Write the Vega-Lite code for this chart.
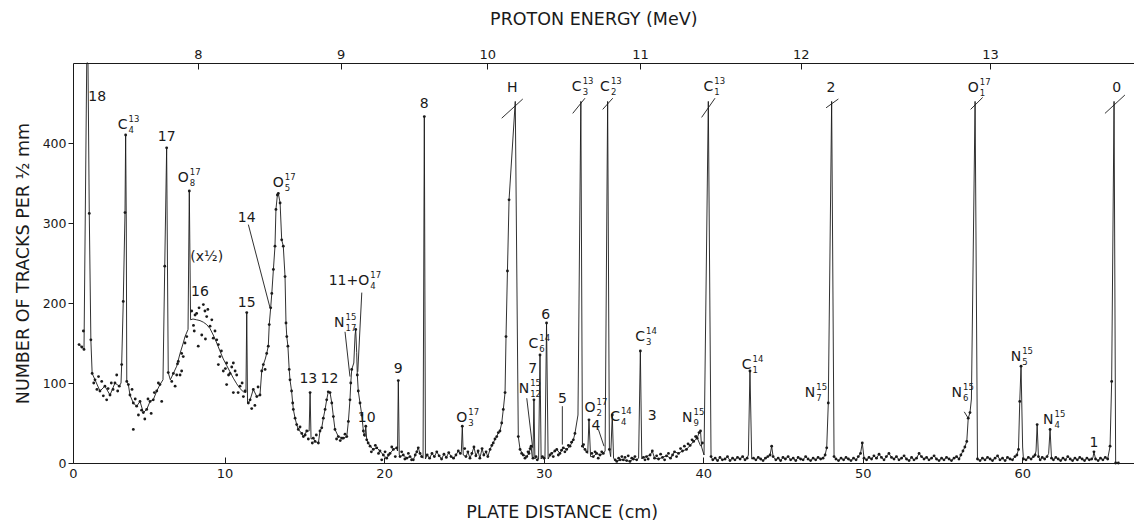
{
"$schema":"https://vega.github.io/schema/vega-lite/v6.json",
"width":1061,"height":400,
"autosize":{"type":"none"},
"padding":{"left":73,"top":63,"right":0,"bottom":58},
"background":"white",
"config":{"view":{"stroke":null},"font":"DejaVu Sans"},
"datasets":{
"s":[
{"x":0.88,"y":148,"k":"b"},{"x":1.05,"y":145,"k":"p"},{"x":1.15,"y":165,"k":"p"},{"x":1.19,"y":142,"k":"b"},{"x":1.36,"y":500,"k":"c"},{"x":1.44,"y":500,"k":"c"},{"x":1.52,"y":312,"k":"b"},{"x":1.62,"y":154,"k":"b"},{"x":1.70,"y":112,"k":"b"},{"x":1.80,"y":100,"k":"p"},{"x":1.88,"y":104,"k":"b"},{"x":2.00,"y":92,"k":"p"},{"x":2.10,"y":108,"k":"p"},{"x":2.19,"y":90,"k":"b"},{"x":2.30,"y":102,"k":"p"},{"x":2.40,"y":84,"k":"p"},{"x":2.50,"y":96,"k":"b"},{"x":2.61,"y":79,"k":"p"},{"x":2.70,"y":93,"k":"p"},{"x":2.82,"y":85,"k":"b"},{"x":2.90,"y":100,"k":"p"},{"x":3.01,"y":92,"k":"p"},{"x":3.13,"y":100,"k":"b"},{"x":3.24,"y":110,"k":"p"},{"x":3.30,"y":90,"k":"p"},{"x":3.40,"y":96,"k":"b"},{"x":3.51,"y":100,"k":"c"},{"x":3.55,"y":123,"k":"b"},{"x":3.65,"y":202,"k":"b"},{"x":3.76,"y":313,"k":"b"},{"x":3.80,"y":410,"k":"b"},{"x":3.84,"y":300,"k":"c"},{"x":3.87,"y":102,"k":"b"},{"x":3.97,"y":98,"k":"b"},{"x":4.07,"y":85,"k":"b"},{"x":4.20,"y":92,"k":"p"},{"x":4.28,"y":75,"k":"b"},{"x":4.28,"y":42,"k":"p"},{"x":4.40,"y":80,"k":"p"},{"x":4.49,"y":71,"k":"b"},{"x":4.60,"y":60,"k":"p"},{"x":4.70,"y":77,"k":"b"},{"x":4.80,"y":66,"k":"p"},{"x":4.91,"y":63,"k":"b"},{"x":5.00,"y":55,"k":"p"},{"x":5.12,"y":67,"k":"b"},{"x":5.20,"y":80,"k":"p"},{"x":5.33,"y":77,"k":"b"},{"x":5.40,"y":62,"k":"p"},{"x":5.53,"y":79,"k":"b"},{"x":5.60,"y":88,"k":"p"},{"x":5.75,"y":90,"k":"b"},{"x":5.85,"y":100,"k":"p"},{"x":5.95,"y":98,"k":"b"},{"x":6.06,"y":77,"k":"p"},{"x":6.14,"y":104,"k":"c"},{"x":6.25,"y":246,"k":"b"},{"x":6.37,"y":394,"k":"b"},{"x":6.42,"y":250,"k":"c"},{"x":6.47,"y":113,"k":"b"},{"x":6.60,"y":104,"k":"c"},{"x":6.79,"y":112,"k":"c"},{"x":7.00,"y":121,"k":"c"},{"x":7.21,"y":137,"k":"c"},{"x":7.41,"y":150,"k":"c"},{"x":7.52,"y":158,"k":"c"},{"x":7.71,"y":167,"k":"c"},{"x":7.79,"y":340,"k":"b"},{"x":7.87,"y":179,"k":"c"},{"x":8.02,"y":180,"k":"c"},{"x":8.25,"y":179,"k":"c"},{"x":8.46,"y":178,"k":"c"},{"x":8.67,"y":176,"k":"c"},{"x":8.88,"y":173,"k":"c"},{"x":9.09,"y":168,"k":"c"},{"x":9.29,"y":160,"k":"c"},{"x":9.51,"y":150,"k":"c"},{"x":9.71,"y":140,"k":"c"},{"x":9.92,"y":130,"k":"c"},{"x":10.13,"y":122,"k":"c"},{"x":10.34,"y":114,"k":"c"},{"x":10.55,"y":106,"k":"c"},{"x":10.76,"y":99,"k":"c"},{"x":10.97,"y":93,"k":"c"},{"x":11.18,"y":89,"k":"c"},{"x":11.34,"y":88,"k":"c"},{"x":11.39,"y":188,"k":"b"},{"x":11.44,"y":75,"k":"c"},
{"x":6.69,"y":102,"k":"p"},{"x":6.79,"y":112,"k":"p"},{"x":6.90,"y":96,"k":"p"},{"x":7.00,"y":110,"k":"p"},{"x":7.05,"y":124,"k":"p"},{"x":7.10,"y":127,"k":"p"},{"x":7.21,"y":110,"k":"p"},{"x":7.31,"y":115,"k":"p"},{"x":7.31,"y":137,"k":"p"},{"x":7.41,"y":133,"k":"p"},{"x":7.52,"y":150,"k":"p"},{"x":7.63,"y":158,"k":"p"},{"x":7.94,"y":190,"k":"p"},{"x":8.05,"y":172,"k":"p"},{"x":8.10,"y":165,"k":"p"},{"x":8.15,"y":185,"k":"p"},{"x":8.25,"y":187,"k":"p"},{"x":8.35,"y":146,"k":"p"},{"x":8.40,"y":194,"k":"p"},{"x":8.57,"y":160,"k":"p"},{"x":8.67,"y":198,"k":"p"},{"x":8.77,"y":190,"k":"p"},{"x":8.80,"y":155,"k":"p"},{"x":8.88,"y":183,"k":"p"},{"x":8.95,"y":192,"k":"p"},{"x":9.09,"y":171,"k":"p"},{"x":9.20,"y":179,"k":"p"},{"x":9.29,"y":156,"k":"p"},{"x":9.40,"y":165,"k":"p"},{"x":9.51,"y":154,"k":"p"},{"x":9.61,"y":148,"k":"p"},{"x":9.61,"y":123,"k":"p"},{"x":9.71,"y":133,"k":"p"},{"x":9.80,"y":140,"k":"p"},{"x":9.92,"y":115,"k":"p"},{"x":10.05,"y":118,"k":"p"},{"x":10.13,"y":125,"k":"p"},{"x":10.13,"y":98,"k":"p"},{"x":10.25,"y":110,"k":"p"},{"x":10.34,"y":112,"k":"p"},{"x":10.45,"y":120,"k":"p"},{"x":10.55,"y":125,"k":"p"},{"x":10.55,"y":88,"k":"p"},{"x":10.66,"y":115,"k":"p"},{"x":10.76,"y":110,"k":"p"},{"x":10.85,"y":88,"k":"p"},{"x":10.97,"y":96,"k":"p"},{"x":11.10,"y":100,"k":"p"},{"x":11.18,"y":83,"k":"p"},{"x":11.28,"y":90,"k":"p"},
{"x":11.49,"y":75,"k":"b"},{"x":11.60,"y":79,"k":"b"},{"x":11.70,"y":68,"k":"p"},{"x":11.80,"y":92,"k":"b"},{"x":11.90,"y":72,"k":"p"},{"x":12.02,"y":83,"k":"b"},{"x":12.10,"y":95,"k":"p"},{"x":12.22,"y":85,"k":"b"},{"x":12.33,"y":115,"k":"b"},{"x":12.43,"y":123,"k":"b"},{"x":12.54,"y":117,"k":"p"},{"x":12.55,"y":130,"k":"c"},{"x":12.64,"y":137,"k":"b"},{"x":12.74,"y":146,"k":"b"},{"x":12.80,"y":173,"k":"b"},{"x":12.89,"y":194,"k":"b"},{"x":12.96,"y":212,"k":"b"},{"x":13.06,"y":242,"k":"b"},{"x":13.16,"y":271,"k":"b"},{"x":13.22,"y":317,"k":"b"},{"x":13.31,"y":335,"k":"b"},{"x":13.37,"y":337,"k":"b"},{"x":13.48,"y":325,"k":"b"},{"x":13.58,"y":279,"k":"b"},{"x":13.68,"y":271,"k":"b"},{"x":13.79,"y":233,"k":"b"},{"x":13.85,"y":175,"k":"b"},{"x":13.90,"y":158,"k":"b"},{"x":13.97,"y":146,"k":"b"},{"x":14.05,"y":117,"k":"b"},{"x":14.10,"y":104,"k":"b"},{"x":14.20,"y":90,"k":"b"},{"x":14.27,"y":75,"k":"b"},{"x":14.31,"y":67,"k":"b"},{"x":14.42,"y":56,"k":"b"},{"x":14.52,"y":48,"k":"b"},{"x":14.62,"y":42,"k":"b"},{"x":14.73,"y":45,"k":"p"},{"x":14.84,"y":37,"k":"b"},{"x":14.94,"y":33,"k":"b"},{"x":15.05,"y":35,"k":"p"},{"x":15.15,"y":40,"k":"b"},{"x":15.25,"y":30,"k":"p"},{"x":15.30,"y":40,"k":"c"},{"x":15.36,"y":88,"k":"b"},{"x":15.42,"y":30,"k":"c"},{"x":15.50,"y":25,"k":"p"},{"x":15.56,"y":31,"k":"b"},{"x":15.67,"y":27,"k":"b"},{"x":15.75,"y":35,"k":"p"},{"x":15.88,"y":25,"k":"b"},{"x":15.98,"y":40,"k":"b"},{"x":16.09,"y":44,"k":"b"},{"x":16.19,"y":56,"k":"b"},{"x":16.30,"y":67,"k":"b"},{"x":16.40,"y":79,"k":"b"},{"x":16.50,"y":89,"k":"b"},{"x":16.61,"y":88,"k":"b"},{"x":16.72,"y":75,"k":"b"},{"x":16.82,"y":58,"k":"b"},{"x":16.92,"y":42,"k":"b"},{"x":17.02,"y":30,"k":"p"},{"x":17.13,"y":33,"k":"b"},{"x":17.25,"y":28,"k":"p"},{"x":17.35,"y":31,"k":"p"},{"x":17.44,"y":31,"k":"b"},{"x":17.55,"y":36,"k":"p"},{"x":17.66,"y":33,"k":"b"},{"x":17.76,"y":52,"k":"b"},{"x":17.86,"y":79,"k":"b"},{"x":17.91,"y":100,"k":"b"},{"x":17.97,"y":117,"k":"b"},{"x":18.10,"y":125,"k":"c"},{"x":18.18,"y":160,"k":"c"},{"x":18.22,"y":167,"k":"b"},{"x":18.28,"y":138,"k":"c"},{"x":18.32,"y":110,"k":"b"},{"x":18.38,"y":90,"k":"b"},{"x":18.49,"y":75,"k":"b"},{"x":18.60,"y":60,"k":"b"},{"x":18.70,"y":40,"k":"b"},{"x":18.76,"y":35,"k":"p"},{"x":18.80,"y":33,"k":"c"},{"x":18.85,"y":46,"k":"b"},{"x":18.91,"y":29,"k":"b"},{"x":19.00,"y":25,"k":"p"},{"x":19.12,"y":21,"k":"b"},{"x":19.20,"y":14,"k":"p"},{"x":19.32,"y":17,"k":"b"},{"x":19.45,"y":22,"k":"p"},{"x":19.54,"y":19,"k":"b"},{"x":19.65,"y":12,"k":"p"},{"x":19.74,"y":15,"k":"b"},{"x":19.85,"y":4,"k":"p"},{"x":19.95,"y":10,"k":"b"},{"x":20.06,"y":14,"k":"p"},{"x":20.16,"y":6,"k":"b"},{"x":20.27,"y":10,"k":"p"},{"x":20.37,"y":12,"k":"b"},{"x":20.48,"y":20,"k":"p"},{"x":20.58,"y":17,"k":"b"},{"x":20.70,"y":8,"k":"p"},{"x":20.79,"y":19,"k":"b"},{"x":20.84,"y":15,"k":"c"},{"x":20.89,"y":103,"k":"b"},{"x":20.95,"y":10,"k":"c"},
{"x":21.00,"y":8,"k":"b"},{"x":21.10,"y":14,"k":"p"},{"x":21.20,"y":10,"k":"b"},{"x":21.30,"y":5,"k":"p"},{"x":21.42,"y":6,"k":"b"},{"x":21.52,"y":12,"k":"p"},{"x":21.62,"y":8,"k":"b"},{"x":21.72,"y":4,"k":"p"},{"x":21.83,"y":4,"k":"b"},{"x":21.95,"y":10,"k":"p"},{"x":22.05,"y":14,"k":"p"},{"x":22.14,"y":19,"k":"b"},{"x":22.25,"y":12,"k":"b"},{"x":22.35,"y":8,"k":"p"},{"x":22.44,"y":6,"k":"c"},{"x":22.52,"y":433,"k":"b"},{"x":22.59,"y":5,"k":"c"},{"x":22.70,"y":10,"k":"b"},{"x":22.85,"y":6,"k":"b"},{"x":23.00,"y":12,"k":"b"},{"x":23.15,"y":8,"k":"b"},{"x":23.30,"y":14,"k":"b"},{"x":23.45,"y":9,"k":"b"},{"x":23.60,"y":5,"k":"b"},{"x":23.75,"y":11,"k":"b"},{"x":23.90,"y":7,"k":"b"},{"x":24.05,"y":13,"k":"b"},{"x":24.20,"y":8,"k":"b"},{"x":24.35,"y":6,"k":"b"},{"x":24.50,"y":10,"k":"b"},{"x":24.65,"y":15,"k":"b"},{"x":24.78,"y":12,"k":"b"},{"x":24.84,"y":14,"k":"c"},{"x":24.90,"y":46,"k":"b"},{"x":24.96,"y":10,"k":"c"},{"x":25.05,"y":18,"k":"p"},{"x":25.13,"y":8,"k":"b"},{"x":25.25,"y":14,"k":"b"},{"x":25.38,"y":6,"k":"b"},{"x":25.50,"y":12,"k":"b"},{"x":25.63,"y":20,"k":"b"},{"x":25.75,"y":9,"k":"b"},{"x":25.89,"y":15,"k":"b"},{"x":26.00,"y":6,"k":"b"},{"x":26.14,"y":18,"k":"b"},{"x":26.25,"y":10,"k":"b"},{"x":26.39,"y":14,"k":"b"},{"x":26.50,"y":8,"k":"b"},{"x":26.64,"y":17,"k":"b"},{"x":26.75,"y":22,"k":"b"},{"x":26.84,"y":25,"k":"b"},{"x":26.95,"y":30,"k":"b"},{"x":27.06,"y":33,"k":"b"},{"x":27.16,"y":38,"k":"b"},{"x":27.26,"y":40,"k":"b"},{"x":27.37,"y":50,"k":"b"},{"x":27.47,"y":67,"k":"b"},{"x":27.58,"y":88,"k":"b"},{"x":27.64,"y":158,"k":"b"},{"x":27.73,"y":240,"k":"b"},{"x":27.83,"y":329,"k":"b"},{"x":28.22,"y":452,"k":"c"},{"x":28.41,"y":33,"k":"b"},{"x":28.52,"y":17,"k":"b"},{"x":28.62,"y":12,"k":"p"},{"x":28.72,"y":10,"k":"b"},{"x":28.83,"y":6,"k":"p"},{"x":28.94,"y":8,"k":"b"},{"x":29.02,"y":14,"k":"p"},{"x":29.08,"y":12,"k":"b"},{"x":29.15,"y":18,"k":"p"},{"x":29.21,"y":21,"k":"b"},{"x":29.28,"y":8,"k":"c"},{"x":29.33,"y":6,"k":"b"},{"x":29.39,"y":79,"k":"b"},{"x":29.45,"y":5,"k":"c"},{"x":29.52,"y":8,"k":"b"},{"x":29.60,"y":4,"k":"p"},{"x":29.68,"y":5,"k":"c"},{"x":29.77,"y":135,"k":"b"},{"x":29.84,"y":5,"k":"c"},{"x":29.92,"y":8,"k":"b"},{"x":30.02,"y":6,"k":"p"},{"x":30.08,"y":5,"k":"c"},{"x":30.18,"y":175,"k":"b"},{"x":30.28,"y":5,"k":"c"},{"x":30.40,"y":10,"k":"b"},{"x":30.50,"y":12,"k":"b"},{"x":30.60,"y":8,"k":"p"},{"x":30.70,"y":15,"k":"p"},{"x":30.82,"y":17,"k":"b"},{"x":30.92,"y":10,"k":"p"},{"x":31.02,"y":12,"k":"b"},{"x":31.12,"y":16,"k":"p"},{"x":31.23,"y":19,"k":"b"},{"x":31.33,"y":14,"k":"p"},{"x":31.44,"y":17,"k":"b"},{"x":31.55,"y":22,"k":"p"},{"x":31.65,"y":21,"k":"b"},{"x":31.75,"y":26,"k":"p"},{"x":31.86,"y":29,"k":"b"},{"x":31.96,"y":37,"k":"b"},{"x":32.15,"y":60,"k":"c"},{"x":32.33,"y":452,"k":"c"},{"x":32.43,"y":21,"k":"b"},{"x":32.50,"y":23,"k":"p"},{"x":32.59,"y":17,"k":"b"},{"x":32.70,"y":14,"k":"p"},{"x":32.76,"y":12,"k":"c"},{"x":32.84,"y":54,"k":"b"},{"x":32.94,"y":8,"k":"c"},{"x":33.02,"y":12,"k":"p"},{"x":33.11,"y":8,"k":"b"},{"x":33.22,"y":14,"k":"p"},{"x":33.32,"y":12,"k":"b"},{"x":33.42,"y":6,"k":"p"},{"x":33.53,"y":10,"k":"b"},{"x":33.64,"y":14,"k":"p"},{"x":33.74,"y":12,"k":"b"},{"x":33.85,"y":15,"k":"c"},{"x":34.01,"y":452,"k":"c"},{"x":34.12,"y":17,"k":"b"},{"x":34.20,"y":8,"k":"c"},{"x":34.30,"y":60,"k":"b"},{"x":34.38,"y":6,"k":"c"},{"x":34.48,"y":4,"k":"p"},{"x":34.58,"y":2,"k":"b"},{"x":34.70,"y":6,"k":"p"},{"x":34.79,"y":4,"k":"b"},{"x":34.90,"y":8,"k":"p"},{"x":34.99,"y":4,"k":"b"},{"x":35.10,"y":7,"k":"p"},{"x":35.20,"y":3,"k":"b"},{"x":35.30,"y":9,"k":"p"},{"x":35.41,"y":2,"k":"b"},{"x":35.52,"y":6,"k":"p"},{"x":35.62,"y":5,"k":"b"},{"x":35.72,"y":8,"k":"p"},{"x":35.83,"y":4,"k":"b"},{"x":35.95,"y":6,"k":"c"},{"x":36.06,"y":140,"k":"b"},{"x":36.15,"y":5,"k":"c"},{"x":36.25,"y":7,"k":"b"},{"x":36.35,"y":4,"k":"p"},{"x":36.45,"y":8,"k":"b"},{"x":36.55,"y":5,"k":"p"},{"x":36.67,"y":10,"k":"b"},{"x":36.81,"y":15,"k":"b"},{"x":36.95,"y":6,"k":"b"},{"x":37.08,"y":9,"k":"p"},{"x":37.20,"y":5,"k":"b"},{"x":37.33,"y":11,"k":"p"},{"x":37.45,"y":7,"k":"b"},{"x":37.58,"y":4,"k":"p"},{"x":37.70,"y":9,"k":"b"},{"x":37.82,"y":12,"k":"p"},{"x":37.95,"y":6,"k":"b"},{"x":38.08,"y":10,"k":"p"},{"x":38.20,"y":14,"k":"b"},{"x":38.33,"y":8,"k":"p"},{"x":38.45,"y":12,"k":"b"},{"x":38.58,"y":18,"k":"p"},{"x":38.70,"y":15,"k":"b"},{"x":38.82,"y":21,"k":"p"},{"x":38.95,"y":17,"k":"b"},{"x":39.05,"y":24,"k":"p"},{"x":39.18,"y":22,"k":"b"},{"x":39.30,"y":29,"k":"p"},{"x":39.40,"y":27,"k":"b"},{"x":39.52,"y":33,"k":"p"},{"x":39.62,"y":31,"k":"b"},{"x":39.74,"y":38,"k":"b"},{"x":39.83,"y":40,"k":"b"},{"x":39.90,"y":20,"k":"c"},{"x":39.95,"y":25,"k":"p"},{"x":40.05,"y":10,"k":"c"},{"x":40.32,"y":452,"k":"c"},{"x":40.49,"y":8,"k":"b"},
{"x":40.60,"y":4,"k":"b"},{"x":40.75,"y":6,"k":"b"},{"x":40.90,"y":3,"k":"b"},{"x":41.05,"y":7,"k":"b"},{"x":41.20,"y":4,"k":"b"},{"x":41.37,"y":5,"k":"b"},{"x":41.52,"y":8,"k":"b"},{"x":41.68,"y":3,"k":"b"},{"x":41.84,"y":6,"k":"b"},{"x":41.99,"y":4,"k":"b"},{"x":42.15,"y":7,"k":"b"},{"x":42.31,"y":5,"k":"b"},{"x":42.47,"y":8,"k":"b"},{"x":42.62,"y":4,"k":"b"},{"x":42.75,"y":6,"k":"b"},{"x":42.83,"y":10,"k":"c"},{"x":42.93,"y":115,"k":"b"},{"x":43.04,"y":5,"k":"c"},{"x":43.15,"y":6,"k":"b"},{"x":43.30,"y":4,"k":"b"},{"x":43.45,"y":7,"k":"b"},{"x":43.60,"y":5,"k":"b"},{"x":43.75,"y":3,"k":"b"},{"x":43.90,"y":6,"k":"b"},{"x":44.05,"y":8,"k":"b"},{"x":44.19,"y":10,"k":"b"},{"x":44.29,"y":21,"k":"b"},{"x":44.38,"y":8,"k":"b"},{"x":44.55,"y":4,"k":"b"},{"x":44.70,"y":6,"k":"b"},{"x":44.85,"y":3,"k":"b"},{"x":45.00,"y":7,"k":"b"},{"x":45.15,"y":5,"k":"b"},{"x":45.32,"y":8,"k":"b"},{"x":45.48,"y":4,"k":"b"},{"x":45.64,"y":6,"k":"b"},{"x":45.80,"y":3,"k":"b"},{"x":45.95,"y":7,"k":"b"},{"x":46.10,"y":5,"k":"b"},{"x":46.26,"y":4,"k":"b"},{"x":46.42,"y":8,"k":"b"},{"x":46.57,"y":5,"k":"b"},{"x":46.73,"y":3,"k":"b"},{"x":46.89,"y":6,"k":"b"},{"x":47.05,"y":4,"k":"b"},{"x":47.20,"y":7,"k":"b"},{"x":47.36,"y":5,"k":"b"},{"x":47.51,"y":6,"k":"b"},{"x":47.64,"y":10,"k":"b"},{"x":47.74,"y":19,"k":"b"},{"x":47.84,"y":75,"k":"b"},{"x":48.05,"y":452,"k":"c"},{"x":48.20,"y":8,"k":"b"},{"x":48.32,"y":5,"k":"b"},{"x":48.48,"y":3,"k":"b"},{"x":48.64,"y":6,"k":"b"},{"x":48.80,"y":4,"k":"b"},{"x":48.95,"y":7,"k":"b"},{"x":49.10,"y":5,"k":"b"},{"x":49.26,"y":3,"k":"b"},{"x":49.42,"y":6,"k":"b"},{"x":49.58,"y":4,"k":"b"},{"x":49.72,"y":8,"k":"b"},{"x":49.86,"y":12,"k":"b"},{"x":49.97,"y":25,"k":"b"},{"x":50.08,"y":6,"k":"b"},{"x":50.24,"y":4,"k":"b"},{"x":50.39,"y":7,"k":"b"},{"x":50.55,"y":5,"k":"b"},{"x":50.70,"y":9,"k":"b"},{"x":50.86,"y":6,"k":"b"},{"x":51.02,"y":11,"k":"b"},{"x":51.17,"y":7,"k":"b"},{"x":51.33,"y":4,"k":"b"},{"x":51.48,"y":8,"k":"b"},{"x":51.64,"y":12,"k":"b"},{"x":51.80,"y":7,"k":"b"},{"x":51.96,"y":5,"k":"b"},{"x":52.11,"y":8,"k":"b"},{"x":52.27,"y":4,"k":"b"},{"x":52.43,"y":6,"k":"b"},{"x":52.59,"y":9,"k":"b"},{"x":52.74,"y":5,"k":"b"},{"x":52.90,"y":3,"k":"b"},{"x":53.06,"y":7,"k":"b"},{"x":53.21,"y":4,"k":"b"},{"x":53.37,"y":6,"k":"b"},{"x":53.53,"y":12,"k":"b"},{"x":53.68,"y":8,"k":"b"},{"x":53.84,"y":5,"k":"b"},{"x":54.00,"y":7,"k":"b"},{"x":54.15,"y":4,"k":"b"},{"x":54.31,"y":6,"k":"b"},{"x":54.47,"y":9,"k":"b"},{"x":54.62,"y":5,"k":"b"},{"x":54.78,"y":3,"k":"b"},{"x":54.94,"y":6,"k":"b"},{"x":55.09,"y":4,"k":"b"},{"x":55.25,"y":7,"k":"b"},{"x":55.41,"y":5,"k":"b"},{"x":55.56,"y":3,"k":"b"},{"x":55.72,"y":6,"k":"b"},{"x":55.88,"y":8,"k":"b"},{"x":56.03,"y":5,"k":"b"},{"x":56.15,"y":10,"k":"b"},{"x":56.28,"y":15,"k":"b"},{"x":56.40,"y":20,"k":"b"},{"x":56.52,"y":27,"k":"b"},{"x":56.61,"y":56,"k":"b"},{"x":56.72,"y":63,"k":"b"},{"x":56.81,"y":80,"k":"c"},{"x":57.04,"y":452,"k":"c"},{"x":57.19,"y":5,"k":"b"},{"x":57.35,"y":3,"k":"b"},{"x":57.50,"y":6,"k":"b"},{"x":57.66,"y":4,"k":"b"},{"x":57.82,"y":7,"k":"b"},{"x":57.98,"y":5,"k":"b"},{"x":58.13,"y":3,"k":"b"},{"x":58.29,"y":6,"k":"b"},{"x":58.45,"y":9,"k":"b"},{"x":58.60,"y":4,"k":"b"},{"x":58.76,"y":6,"k":"b"},{"x":58.92,"y":3,"k":"b"},{"x":59.07,"y":7,"k":"b"},{"x":59.23,"y":5,"k":"b"},{"x":59.38,"y":4,"k":"b"},{"x":59.54,"y":8,"k":"b"},{"x":59.66,"y":10,"k":"b"},{"x":59.76,"y":17,"k":"b"},{"x":59.84,"y":77,"k":"b"},{"x":59.92,"y":121,"k":"b"},{"x":60.02,"y":20,"k":"c"},{"x":60.07,"y":5,"k":"b"},{"x":60.23,"y":4,"k":"b"},{"x":60.38,"y":7,"k":"b"},{"x":60.55,"y":5,"k":"b"},{"x":60.70,"y":8,"k":"b"},{"x":60.80,"y":10,"k":"b"},{"x":60.86,"y":15,"k":"c"},{"x":60.93,"y":48,"k":"b"},{"x":61.01,"y":8,"k":"b"},{"x":61.12,"y":4,"k":"b"},{"x":61.25,"y":7,"k":"b"},{"x":61.40,"y":5,"k":"b"},{"x":61.55,"y":8,"k":"b"},{"x":61.65,"y":12,"k":"c"},{"x":61.74,"y":42,"k":"b"},{"x":61.83,"y":6,"k":"b"},{"x":61.95,"y":4,"k":"b"},{"x":62.10,"y":7,"k":"b"},{"x":62.25,"y":5,"k":"b"},{"x":62.40,"y":3,"k":"b"},{"x":62.55,"y":6,"k":"b"},{"x":62.70,"y":4,"k":"b"},{"x":62.85,"y":8,"k":"b"},{"x":63.00,"y":5,"k":"b"},{"x":63.15,"y":3,"k":"b"},{"x":63.30,"y":6,"k":"b"},{"x":63.45,"y":4,"k":"b"},{"x":63.60,"y":7,"k":"b"},{"x":63.75,"y":5,"k":"b"},{"x":63.90,"y":3,"k":"b"},{"x":64.05,"y":6,"k":"b"},{"x":64.20,"y":4,"k":"b"},{"x":64.35,"y":5,"k":"b"},{"x":64.43,"y":7,"k":"c"},{"x":64.49,"y":14,"k":"b"},{"x":64.59,"y":5,"k":"b"},{"x":64.75,"y":3,"k":"b"},{"x":64.90,"y":6,"k":"b"},{"x":65.05,"y":4,"k":"b"},{"x":65.20,"y":7,"k":"b"},{"x":65.35,"y":5,"k":"b"},{"x":65.50,"y":21,"k":"b"},{"x":65.60,"y":102,"k":"b"},{"x":65.75,"y":452,"k":"c"},{"x":65.85,"y":0,"k":"b"},{"x":66.02,"y":0,"k":"b"}
],
"lab":[
{"x":2.02,"y":458,"t":"18"},{"x":6.37,"y":407,"t":"17"},{"x":8.88,"y":257,"t":"(x½)"},{"x":8.46,"y":214,"t":"16"},{"x":11.39,"y":200,"t":"15"},{"x":11.39,"y":306,"t":"14"},{"x":15.25,"y":105,"t":"13"},{"x":16.57,"y":105,"t":"12"},{"x":18.91,"y":56,"t":"10"},{"x":20.89,"y":117,"t":"9"},{"x":22.52,"y":449,"t":"8"},{"x":28.03,"y":469,"t":"H"},{"x":29.31,"y":118,"t":"7"},{"x":30.13,"y":185,"t":"6"},{"x":31.17,"y":80,"t":"5"},{"x":33.28,"y":46,"t":"4"},{"x":36.81,"y":59,"t":"3"},{"x":48.01,"y":469,"t":"2"},{"x":64.49,"y":25,"t":"1"},{"x":65.92,"y":469,"t":"0"}
],
"iso":[
{"x":3.92,"y":423,"t":"C","sp":"13","sb":"4"},{"x":7.76,"y":356,"t":"O","sp":"17","sb":"8"},{"x":13.71,"y":350,"t":"O","sp":"17","sb":"5"},{"x":17.52,"y":175,"t":"N","sp":"15","sb":"17"},{"x":19.07,"y":227,"t":"11+O","sp":"17","sb":"4"},{"x":25.21,"y":56,"t":"O","sp":"17","sb":"3"},{"x":29.09,"y":92,"t":"N","sp":"15","sb":"12"},{"x":29.66,"y":149,"t":"C","sp":"14","sb":"6"},{"x":32.38,"y":470,"t":"C","sp":"13","sb":"3"},{"x":34.15,"y":470,"t":"C","sp":"13","sb":"2"},{"x":33.25,"y":69,"t":"O","sp":"17","sb":"2"},{"x":34.78,"y":58,"t":"C","sp":"14","sb":"4"},{"x":36.35,"y":158,"t":"C","sp":"14","sb":"3"},{"x":39.33,"y":56,"t":"N","sp":"15","sb":"9"},{"x":40.63,"y":470,"t":"C","sp":"13","sb":"1"},{"x":43.03,"y":123,"t":"C","sp":"14","sb":"1"},{"x":47.02,"y":88,"t":"N","sp":"15","sb":"7"},{"x":57.27,"y":469,"t":"O","sp":"17","sb":"1"},{"x":56.22,"y":88,"t":"N","sp":"15","sb":"6"},{"x":59.93,"y":133,"t":"N","sp":"15","sb":"5"},{"x":61.96,"y":54,"t":"N","sp":"15","sb":"4"}
],
"rl":[
{"x":27.37,"y":431,"x2":28.69,"y2":455},{"x":31.82,"y":437,"x2":32.59,"y2":456},{"x":33.70,"y":442,"x2":34.33,"y2":456},{"x":39.90,"y":432,"x2":40.74,"y2":456},{"x":47.70,"y":444,"x2":48.47,"y2":455},{"x":56.76,"y":442,"x2":57.52,"y2":457},{"x":65.18,"y":437,"x2":66.43,"y2":460},
{"x":11.49,"y":298,"x2":12.85,"y2":194},{"x":17.55,"y":164,"x2":17.86,"y2":108},{"x":18.60,"y":213,"x2":18.35,"y2":114},{"x":28.94,"y":81,"x2":29.31,"y2":19},{"x":31.17,"y":71,"x2":31.17,"y2":23},{"x":33.43,"y":42,"x2":33.78,"y2":21},{"x":39.55,"y":35,"x2":39.84,"y2":21},{"x":56.36,"y":64,"x2":56.61,"y2":56}
]
},
"resolve":{"axis":{"x":"independent","y":"independent"}},
"layer":[
{"data":{"name":"s"},"transform":[{"filter":"datum.k != 'p'"}],
 "mark":{"type":"line","color":"#1a1a1a","strokeWidth":0.9},
 "encoding":{
  "x":{"field":"x","type":"quantitative","scale":{"domain":[0.5,67],"nice":false,"zero":false},
   "axis":{"orient":"bottom","values":[0.5,10,20,30,40,50,60],"labelExpr":"datum.value < 1 ? '0' : format(datum.value, 'd')","tickSize":-6,"labelPadding":10,"grid":false,"domainColor":"#1a1a1a","tickColor":"#1a1a1a","labelColor":"#1a1a1a","labelFont":"DejaVu Sans","labelFontSize":13,"labelFlush":false,"title":"PLATE DISTANCE (cm)","titleFont":"DejaVu Sans","titleFontSize":17.5,"titleFontWeight":"normal","titleColor":"#1a1a1a","titleX":488.7,"titleY":54.7,"titleAlign":"center","titleBaseline":"alphabetic"}},
  "y":{"field":"y","type":"quantitative","scale":{"domain":[0,500],"nice":false},"axis":null}
 }},
{"data":{"name":"s"},"transform":[{"filter":"datum.k != 'c'"}],
 "mark":{"type":"point","filled":true,"color":"#1a1a1a","size":8,"opacity":1},
 "encoding":{
  "x":{"field":"x","type":"quantitative","scale":{"domain":[0.5,67],"nice":false,"zero":false},"axis":null},
  "y":{"field":"y","type":"quantitative","scale":{"domain":[0,500],"nice":false},
   "axis":{"orient":"left","values":[0,100,200,300,400],"tickSize":5,"labelPadding":2,"grid":false,"domainColor":"#1a1a1a","tickColor":"#1a1a1a","labelColor":"#1a1a1a","labelFont":"DejaVu Sans","labelFontSize":12.5,"labelFlush":false,"title":"NUMBER OF TRACKS PER ½ mm","titleFont":"DejaVu Sans","titleFontSize":17.5,"titleFontWeight":"normal","titleColor":"#1a1a1a","titlePadding":10}}
 }},
{"data":{"name":"rl"},
 "mark":{"type":"rule","color":"#1a1a1a","strokeWidth":0.9},
 "encoding":{
  "x":{"field":"x","type":"quantitative","scale":{"domain":[0.5,67],"nice":false,"zero":false},"axis":null},
  "y":{"field":"y","type":"quantitative","scale":{"domain":[0,500],"nice":false},"axis":null},
  "x2":{"field":"x2"},"y2":{"field":"y2"}
 }},
{"data":{"name":"lab"},
 "mark":{"type":"text","font":"DejaVu Sans","fontSize":14,"color":"#1a1a1a","align":"center","baseline":"middle"},
 "encoding":{
  "x":{"field":"x","type":"quantitative","scale":{"domain":[0.5,67],"nice":false,"zero":false},"axis":null},
  "y":{"field":"y","type":"quantitative","scale":{"domain":[0,500],"nice":false},"axis":null},
  "text":{"field":"t"}
 }},
{"data":{"name":"iso"},
 "mark":{"type":"text","font":"DejaVu Sans","fontSize":14,"color":"#1a1a1a","align":"right","baseline":"middle"},
 "encoding":{
  "x":{"field":"x","type":"quantitative","scale":{"domain":[0.5,67],"nice":false,"zero":false},"axis":null},
  "y":{"field":"y","type":"quantitative","scale":{"domain":[0,500],"nice":false},"axis":null},
  "text":{"field":"t"}
 }},
{"data":{"name":"iso"},
 "mark":{"type":"text","font":"DejaVu Sans","fontSize":8.5,"color":"#1a1a1a","align":"left","baseline":"middle","dx":1,"dy":-6},
 "encoding":{
  "x":{"field":"x","type":"quantitative","scale":{"domain":[0.5,67],"nice":false,"zero":false},"axis":null},
  "y":{"field":"y","type":"quantitative","scale":{"domain":[0,500],"nice":false},"axis":null},
  "text":{"field":"sp"}
 }},
{"data":{"name":"iso"},
 "mark":{"type":"text","font":"DejaVu Sans","fontSize":8.5,"color":"#1a1a1a","align":"left","baseline":"middle","dx":1,"dy":5},
 "encoding":{
  "x":{"field":"x","type":"quantitative","scale":{"domain":[0.5,67],"nice":false,"zero":false},"axis":null},
  "y":{"field":"y","type":"quantitative","scale":{"domain":[0,500],"nice":false},"axis":null},
  "text":{"field":"sb"}
 }},
{"data":{"name":"s"},
 "mark":{"type":"point","opacity":0},
 "encoding":{
  "x":{"field":"x","type":"quantitative","scale":{"domain":[0.5,67],"nice":false,"zero":false},
   "axis":{"orient":"top","values":[8.32,17.28,26.47,36.04,46.11,57.98],"labelExpr":"datum.value < 12 ? '8' : datum.value < 20 ? '9' : datum.value < 30 ? '10' : datum.value < 40 ? '11' : datum.value < 50 ? '12' : '13'","tickSize":-6,"labelPadding":8,"grid":false,"domainColor":"#1a1a1a","tickColor":"#1a1a1a","labelColor":"#1a1a1a","labelFont":"DejaVu Sans","labelFontSize":13,"labelFlush":false,"title":"PROTON ENERGY (MeV)","titleFont":"DejaVu Sans","titleFontSize":17.5,"titleFontWeight":"normal","titleColor":"#1a1a1a","titleX":520.3,"titleY":-38.5,"titleAlign":"center","titleBaseline":"alphabetic"}},
  "y":{"field":"y","type":"quantitative","scale":{"domain":[0,500],"nice":false},"axis":null}
 }}
]
}
